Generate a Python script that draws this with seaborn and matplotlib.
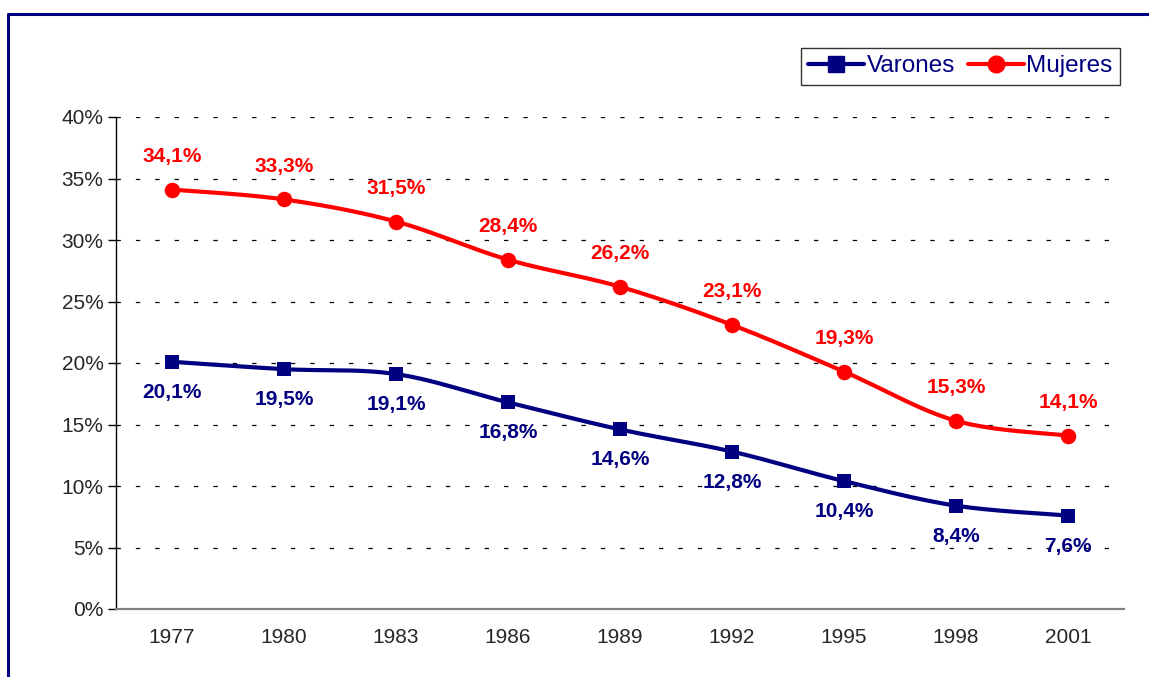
import numpy as np
import pandas as pd
import seaborn as sns
import matplotlib.pyplot as plt
from matplotlib.lines import Line2D

years = ['1977', '1980', '1983', '1986', '1989', '1992', '1995', '1998', '2001']
varones = [20.1, 19.5, 19.1, 16.8, 14.6, 12.8, 10.4, 8.4, 7.6]
mujeres = [34.1, 33.3, 31.5, 28.4, 26.2, 23.1, 19.3, 15.3, 14.1]
y_ticks = [0, 5, 10, 15, 20, 25, 30, 35, 40]

NAVY = '#000080'
RED = '#ff0000'


def smooth(x, y, n=24):
    # bezier smoothing like the spreadsheet "smoothed line" option
    p = np.column_stack([x, y]).astype(float)
    p = np.vstack([p[0], p, p[-1]])
    out = []
    t = np.linspace(0, 1, n)[:, None]
    for i in range(1, len(p) - 2):
        p0, p1, p2, p3 = p[i - 1], p[i], p[i + 1], p[i + 2]
        c1 = p1 + (p2 - p0) / 6
        c2 = p2 - (p3 - p1) / 6
        seg = ((1 - t) ** 3) * p1 + 3 * ((1 - t) ** 2) * t * c1 + 3 * (1 - t) * t ** 2 * c2 + t ** 3 * p2
        out.append(seg if i == 1 else seg[1:])
    out = np.vstack(out)
    return out[:, 0], out[:, 1]


sns.set_style('white')
plt.rcParams['font.family'] = ['Liberation Sans', 'DejaVu Sans']

fig = plt.figure(figsize=(11.49, 6.77), dpi=100)
ax = fig.add_axes([116 / 1149, 1 - 609 / 677, 1008 / 1149, 492 / 677])

pos = np.arange(len(years))
df = pd.DataFrame({'pos': pos, 'Varones': varones, 'Mujeres': mujeres})

series = [('Varones', NAVY, 's', 100, -22),
          ('Mujeres', RED, 'o', 125, 24)]

for name, col, mk, size, dy in series:
    sx, sy = smooth(df['pos'], df[name])
    sns.lineplot(x=sx, y=sy, sort=False, estimator=None, color=col, lw=3, ax=ax, zorder=3)
    sns.scatterplot(data=df, x='pos', y=name, marker=mk, s=size, color=col,
                    edgecolor=col, linewidth=0, ax=ax, zorder=4)
    for xi, v in zip(pos, df[name]):
        ax.annotate(f'{v:.1f}%'.replace('.', ','), (xi, v), xytext=(0, dy),
                    textcoords='offset points', ha='center', va='center',
                    color=col, fontsize=15, fontweight='bold', zorder=5)

ax.set_xlim(-0.5, len(years) - 0.5)
ax.set_ylim(0, 40)
ax.set_yticks(y_ticks)
ax.set_yticklabels([f'{t}%' for t in y_ticks], fontsize=15)
ax.set_xticks(pos)
ax.set_xticklabels(years, fontsize=15)
ax.set_xticks(np.arange(len(years) + 1) - 0.5, minor=True)
ax.tick_params(axis='x', which='major', length=0, pad=14)
ax.tick_params(axis='x', which='minor', length=6, width=1, color='#606060', direction='out')
ax.tick_params(axis='y', length=6, width=1, color='black', direction='out', pad=3, left=True)
ax.set_xlabel('')
ax.set_ylabel('')

for t in y_ticks[1:]:
    ax.axhline(t, color='black', lw=0.9, dashes=(3.5, 12), zorder=1)

for s in ['top', 'right']:
    ax.spines[s].set_visible(False)
ax.spines['left'].set_color('black')
ax.spines['left'].set_linewidth(1)
ax.spines['bottom'].set_color('#808080')
ax.spines['bottom'].set_linewidth(1.6)

handles = [Line2D([], [], color=NAVY, lw=3, marker='s', markersize=11),
           Line2D([], [], color=RED, lw=3, marker='o', markersize=12)]
leg = fig.legend(handles, ['Varones', 'Mujeres'], loc='upper right',
                 bbox_to_anchor=(1120 / 1149, 1 - 48 / 677), ncol=2, fontsize=17.5,
                 frameon=True, fancybox=False, handlelength=2.3, handletextpad=0.12,
                 columnspacing=0.5, borderpad=0.3, borderaxespad=0)
leg.get_frame().set_edgecolor('black')
leg.get_frame().set_linewidth(1)
for txt in leg.get_texts():
    txt.set_color(NAVY)

# outer frame of the chart area
fx = 8 / 1149
fy = 1 - 14 / 677
fig.add_artist(Line2D([fx, fx, 1], [0, fy, fy], transform=fig.transFigure,
                      color=NAVY, lw=2.2))

fig.savefig('out.png', dpi=100)
